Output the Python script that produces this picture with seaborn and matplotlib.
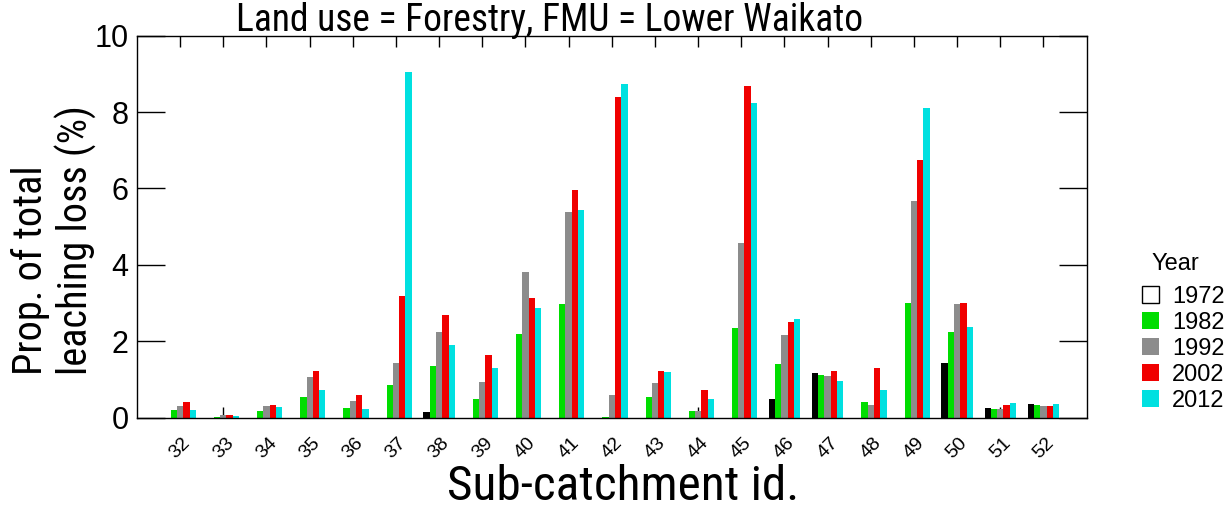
import numpy as np
import pandas as pd
import matplotlib
matplotlib.use("Agg")
import matplotlib.pyplot as plt
from matplotlib.patches import Patch
from matplotlib import font_manager
import seaborn as sns

catchments = [str(i) for i in range(32, 53)]
years = ["1972", "1982", "1992", "2002", "2012"]
v1972 = [0.0, 0.0, 0.0, 0.0, 0.0, 0.0, 0.15, 0.0, 0.0, 0.0, 0.0, 0.0, 0.0, 0.0, 0.5, 1.17, 0.0, 0.0, 1.43, 0.25, 0.37]
v1982 = [0.2, 0.02, 0.18, 0.54, 0.26, 0.86, 1.36, 0.5, 2.18, 2.98, 0.03, 0.55, 0.17, 2.35, 1.4, 1.11, 0.42, 2.99, 2.24, 0.24, 0.34]
v1992 = [0.3, 0.08, 0.3, 1.06, 0.45, 1.43, 2.24, 0.93, 3.81, 5.38, 0.59, 0.9, 0.17, 4.57, 2.16, 1.09, 0.34, 5.66, 2.98, 0.24, 0.32]
v2002 = [0.4, 0.06, 0.33, 1.23, 0.59, 3.19, 2.68, 1.64, 3.13, 5.96, 8.4, 1.22, 0.72, 8.67, 2.51, 1.22, 1.3, 6.75, 3.0, 0.33, 0.31]
v2012 = [0.2, 0.04, 0.28, 0.73, 0.23, 9.04, 1.9, 1.3, 2.87, 5.45, 8.74, 1.19, 0.48, 8.24, 2.58, 0.96, 0.72, 8.11, 2.37, 0.38, 0.36]
colors = ["#000000", "#00DD00", "#8C8C8C", "#F00000", "#00E0E0"]

df = pd.DataFrame({
    "catchment": catchments * 5,
    "year": np.repeat(years, len(catchments)),
    "value": v1972 + v1982 + v1992 + v2002 + v2012,
})

sns.set_style("white")
plt.rcParams["font.family"] = ["Liberation Sans", "DejaVu Sans"]
for k in ["text.color", "axes.labelcolor", "xtick.color", "ytick.color", "axes.edgecolor"]:
    plt.rcParams[k] = "black"

installed = {f.name for f in font_manager.fontManager.ttflist}
narrow_candidates = ["Liberation Sans Narrow", "Arial Narrow", "Roboto Condensed",
                     "Archivo Narrow", "PT Sans Narrow"]
narrow = next((n for n in narrow_candidates if n in installed), "Liberation Sans")
NF = [narrow, "Liberation Sans", "DejaVu Sans"]

fig = plt.figure(figsize=(12.32, 5.17), dpi=100)
ax = fig.add_axes([0.1112, 0.192, 0.7708, 0.739])
sns.barplot(data=df, x="catchment", y="value", hue="year", order=catchments,
            hue_order=years, palette=colors, width=0.73, gap=0, linewidth=0,
            saturation=1, ax=ax, legend=False)
ax.set_axisbelow(True)
ax.set_xlim(-1, 21)
ax.set_ylim(0, 10)
ax.set_yticks([0, 2, 4, 6, 8, 10])
ax.tick_params(axis="y", direction="in", length=20, width=1, left=True, right=True,
               labelsize=22, pad=6, color="black")
ax.tick_params(axis="x", direction="in", length=8, width=1, bottom=True, top=True,
               labelsize=14, pad=12, color="black")
plt.setp(ax.get_xticklabels(), rotation=45, ha="center", va="top")
for sp in ax.spines.values():
    sp.set_color("black")
    sp.set_linewidth(1)
ax.set_xlabel("")
ax.set_ylabel("")

fig.text(623 / 1232, 1 - 500 / 517, "Sub-catchment id.", fontsize=35.5, family=NF,
         ha="center", va="baseline")
fig.text(0.044, 1 - 375 / 517, "Prop. of total\nleaching loss (%)", rotation=90, family=NF,
         fontsize=29, ha="center", va="bottom", multialignment="left", linespacing=1.15)
fig.text(549.5 / 1232, 1 - 31 / 517, "Land use = Forestry, FMU = Lower Waikato", fontsize=27,
         family=NF, ha="center", va="baseline")

handles = [Patch(facecolor="white", edgecolor="black", linewidth=1)] + \
          [Patch(facecolor=c, edgecolor="none") for c in colors[1:]]
fig.legend(handles, years, loc="upper left", bbox_to_anchor=(0.910, 0.4885),
           frameon=False, fontsize=17, handlelength=0.72,
           handleheight=0.72, handletextpad=0.55, labelspacing=0.17)
fig.text(1175.5 / 1232, 1 - 264 / 517, "Year", fontsize=17, ha="center", va="center")

fig.savefig("out.png", dpi=100)
